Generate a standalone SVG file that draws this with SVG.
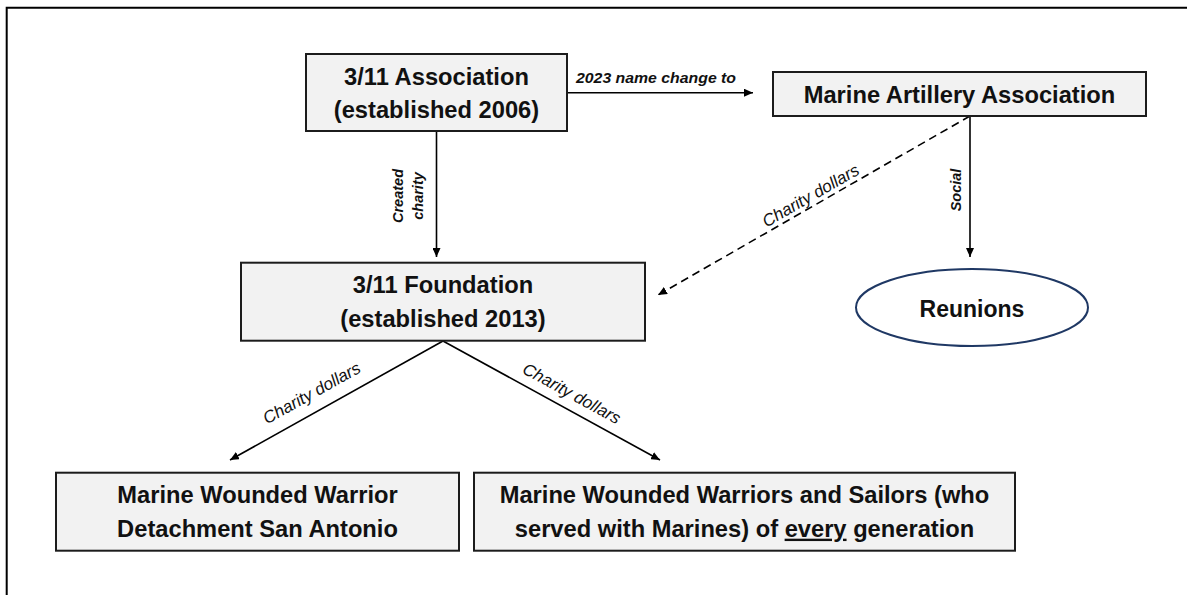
<svg xmlns="http://www.w3.org/2000/svg" width="1187" height="595" viewBox="0 0 1187 595">
<style>
.bg{fill:#ffffff}
.frame{fill:none;stroke:#000;stroke-width:2}
.box{fill:#f2f2f2;stroke:#1c1c1c;stroke-width:2}
.oval{fill:#ffffff;stroke:#1f3864;stroke-width:2}
.t{font-family:"Liberation Sans",Arial,sans-serif;font-weight:bold;font-size:23.7px;fill:#111;text-anchor:middle}
.lb{font-family:"Liberation Sans",Arial,sans-serif;font-weight:bold;font-style:italic;font-size:14.5px;fill:#111}
.li{font-family:"Liberation Sans",Arial,sans-serif;font-style:italic;font-size:17px;fill:#111;text-anchor:middle}
.mid{text-anchor:middle}
.c{fill:none;stroke:#000;stroke-width:1.6;marker-end:url(#ah)}
.dash{stroke-dasharray:8 5}
.u{text-decoration:underline}
</style>
<defs>
<marker id="ah" viewBox="0 0 9 8" refX="9" refY="4" markerWidth="9" markerHeight="8" markerUnits="userSpaceOnUse" orient="auto">
<path d="M0,0 L9,4 L0,8 z" fill="#000"/>
</marker>
</defs>
<rect class="bg" x="0" y="0" width="1187" height="595"/>
<path class="frame" d="M6.7 595 V7.8 H1187"/>

<g id="connectors">
<path class="c" d="M565 92.7 H753"/>
<path class="c" d="M436.5 131 V257"/>
<path class="c" d="M970 116 V257"/>
<path class="c dash" d="M970 116 L658 295"/>
<path class="c" d="M443 341 L230 460"/>
<path class="c" d="M443 341 L660 460"/>
<text class="lb" x="576" y="82.5" textLength="160" lengthAdjust="spacingAndGlyphs">2023 name change to</text>
<text class="lb mid" transform="translate(403,196) rotate(-90)">Created</text>
<text class="lb mid" transform="translate(423,196) rotate(-90)">charity</text>
<text class="lb mid" transform="translate(960.7,190) rotate(-90)">Social</text>
<text class="li" transform="translate(813.5,200.6) rotate(-29.9)">Charity dollars</text>
<text class="li" transform="translate(314.5,398) rotate(-29.2)">Charity dollars</text>
<text class="li" transform="translate(569,398.5) rotate(28.7)">Charity dollars</text>
</g>

<g id="association">
<rect class="box" x="306" y="54" width="261" height="77"/>
<text class="t" x="436.5" y="84.6">3/11 Association</text>
<text class="t" x="436.5" y="118">(established 2006)</text>
</g>

<g id="artillery">
<rect class="box" x="773" y="72" width="373" height="44"/>
<text class="t" x="959.5" y="102.7">Marine Artillery Association</text>
</g>

<g id="foundation">
<rect class="box" x="241" y="262.7" width="404" height="78"/>
<text class="t" x="443" y="293.3">3/11 Foundation</text>
<text class="t" x="443" y="326.7">(established 2013)</text>
</g>

<g id="reunions">
<ellipse class="oval" cx="972" cy="307.5" rx="116" ry="38.5"/>
<text class="t" x="972" y="316.5" style="font-size:23px">Reunions</text>
</g>

<g id="detachment">
<rect class="box" x="56" y="472.7" width="403" height="78"/>
<text class="t" x="257.5" y="503.3">Marine Wounded Warrior</text>
<text class="t" x="257.5" y="536.7">Detachment San Antonio</text>
</g>

<g id="warriors">
<rect class="box" x="474" y="472.7" width="541" height="78"/>
<text class="t" x="744.5" y="503.3">Marine Wounded Warriors and Sailors (who</text>
<text class="t" x="744.5" y="536.7">served with Marines) of <tspan class="u">every</tspan> generation</text>
</g>
</svg>
